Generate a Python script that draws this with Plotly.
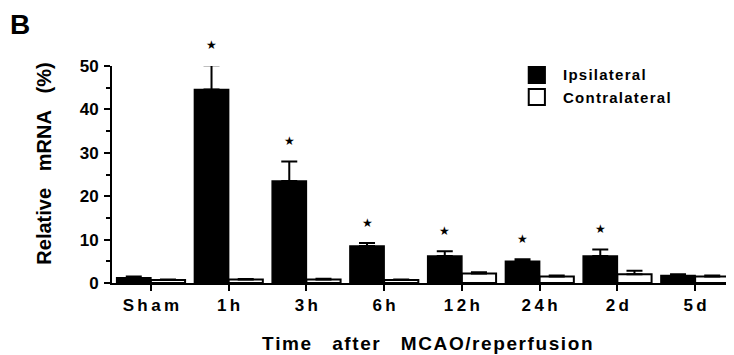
import plotly.graph_objects as go

categories = ["Sham", "1 h", "3 h", "6 h", "12 h", "24 h", "2 d", "5 d"]
ipsi = [1.2, 44.6, 23.5, 8.5, 6.2, 5.0, 6.2, 1.7]
ipsi_err = [0.3, 5.6, 4.5, 0.7, 1.1, 0.5, 1.5, 0.3]
contra = [0.7, 0.8, 0.8, 0.7, 2.2, 1.5, 2.0, 1.5]
contra_err = [0.1, 0.1, 0.2, 0.1, 0.3, 0.2, 0.8, 0.2]
significant = [False, True, True, True, True, True, True, False]
y_ticks = [0, 10, 20, 30, 40, 50]
series_names = ["Ipsilateral", "Contralateral"]

FONT = "Liberation Sans, Arial, sans-serif"
THIN = "\u2009"
HAIR = "\u200a"
NB = "&nbsp;"
Y_MAX = 50
star_offset = 4.7


def track(s, sep):
    return sep.join(ch for ch in s.replace(" ", ""))


fig = go.Figure()
fig.add_trace(go.Bar(
    x=categories, y=ipsi, name=series_names[0],
    marker=dict(color="black", line=dict(color="black", width=1.5)),
    error_y=dict(type="data", array=ipsi_err, arrayminus=[0]*len(ipsi), symmetric=False,
                 color="black", thickness=2, width=8),
))
fig.add_trace(go.Bar(
    x=categories, y=contra, name=series_names[1],
    marker=dict(color="white", line=dict(color="black", width=2)),
    error_y=dict(type="data", array=contra_err, arrayminus=[0]*len(contra), symmetric=False,
                 color="black", thickness=2, width=8),
))

annotations = []
for i, (v, e, s) in enumerate(zip(ipsi, ipsi_err, significant)):
    if s:
        annotations.append(dict(
            text="★", x=i - 0.22, y=(v + e + star_offset) / Y_MAX, xref="x2", yref="paper",
            showarrow=False, xanchor="center", yanchor="middle",
            font=dict(size=12, family="DejaVu Sans", color="black")))

# custom legend, in plot-area fractions
leg = [(series_names[0], "black", 0.995, 0.922, 0.959),
       (series_names[1], "white", 0.894, 0.820, 0.857)]
shapes = []
for name, col, y1, y0, yc in leg:
    shapes.append(dict(type="rect", xref="paper", yref="paper", x0=0.670, x1=0.696,
                       y0=y0, y1=y1, fillcolor=col, line=dict(color="black", width=2)))
    annotations.append(dict(text=track(name, HAIR), x=0.722, y=yc, xref="paper", yref="paper",
                            showarrow=False, xanchor="left", yanchor="middle",
                            font=dict(size=15, family=FONT, weight="bold")))

annotations += [
    dict(text="B", x=-0.167, y=1.189, xref="paper", yref="paper", showarrow=False,
         xanchor="left", yanchor="middle", font=dict(size=28, family=FONT, weight="bold")),
    dict(text="Relative" + NB*3 + "mRNA" + NB*3 + "(%)",
         textangle=-90, x=-0.109, y=0.551,
         xref="paper", yref="paper", showarrow=False, xanchor="center", yanchor="middle",
         font=dict(size=20, family=FONT, weight="bold")),
    dict(text=track("Time", HAIR) + NB*4 + track("after", HAIR) + NB*4 + track("MCAO/reperfusion", HAIR),
         x=0.508, y=-0.279,
         xref="paper", yref="paper", showarrow=False, xanchor="center", yanchor="middle",
         font=dict(size=19, family=FONT, weight="bold")),
]

# page body has an 8px default margin; figure is sized to fill the rest
fig.update_layout(
    width=726, height=347,
    margin=dict(l=104, r=0, t=58, b=72, autoexpand=False),
    paper_bgcolor="white", plot_bgcolor="white",
    barmode="group", bargap=0.12, bargroupgap=0,
    font=dict(family=FONT, size=15, color="black", weight="bold"),
    showlegend=False,
    xaxis=dict(range=[-0.5, 7.5], showline=True, linecolor="black", linewidth=2,
               ticks="outside", ticklen=6, tickwidth=2, tickcolor="black",
               tickvals=categories, ticktext=[track(c, THIN) for c in categories],
               showgrid=False, zeroline=False, ticklabelstandoff=0,
               tickfont=dict(size=17, family=FONT, weight="bold")),
    xaxis2=dict(range=[-0.5, 7.5], overlaying="x", visible=False),
    yaxis=dict(range=[0, Y_MAX], showline=True, linecolor="black", linewidth=2,
               ticks="outside", ticklen=6, tickwidth=2, tickcolor="black",
               tickvals=y_ticks, showgrid=False, zeroline=False, ticklabelstandoff=2,
               minor=dict(dtick=5, ticks="outside", ticklen=4, tickwidth=2, tickcolor="black"),
               tickfont=dict(size=17, family=FONT, weight="bold")),
    shapes=shapes,
    annotations=annotations,
)

fig.write_html("out.html")
